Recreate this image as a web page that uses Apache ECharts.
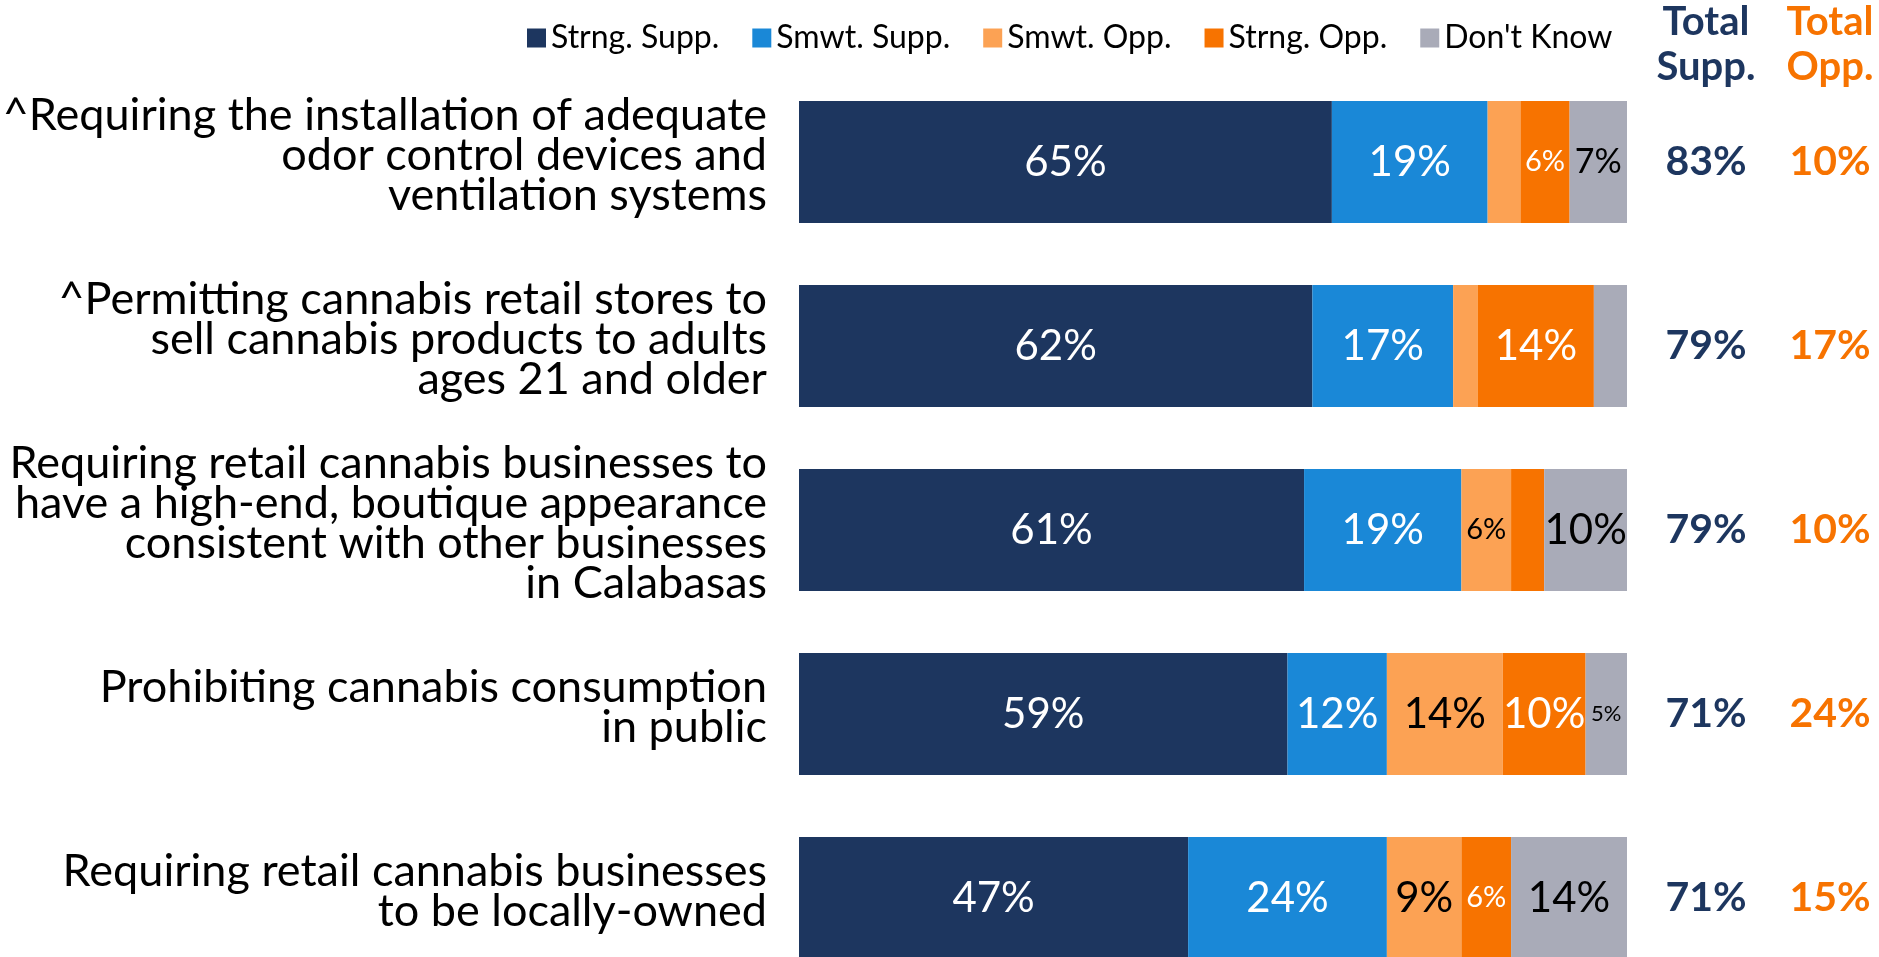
<!DOCTYPE html>
<html>
<head>
<meta charset="utf-8">
<title>Cannabis regulations support</title>
<script src="https://cdn.jsdelivr.net/npm/echarts@6/dist/echarts.min.js"></script>
<style>
  html, body { margin: 0; padding: 0; background: #fff; }
  #chart { width: 1879px; height: 957px; }
</style>
</head>
<body>
<div id="chart"></div>
<script>
  // categories (top to bottom)
  const categories = [
    '^Requiring the installation of adequate\nodor control devices and\nventilation systems',
    '^Permitting cannabis retail stores to\nsell cannabis products to adults\nages 21 and older',
    'Requiring retail cannabis businesses to\nhave a high-end, boutique appearance\nconsistent with other businesses\nin Calabasas',
    'Prohibiting cannabis consumption\nin public',
    'Requiring retail cannabis businesses\nto be locally-owned'
  ]
  const seriesNames = ['Strng. Supp.', 'Smwt. Supp.', 'Smwt. Opp.', 'Strng. Opp.', "Don't Know"]
  const strngSupp = [65, 62, 61, 59, 47]
  const smwtSupp = [19, 17, 19, 12, 24]
  const smwtOpp = [4, 3, 6, 14, 9]
  const strngOpp = [6, 14, 4, 10, 6]
  const dontKnow = [7, 4, 10, 5, 14]
  const totalSupp = [83, 79, 79, 71, 71]
  const totalOpp = [10, 17, 10, 24, 15]

  const navy = '#1d365f'
  const orange = '#f77300'
  const font = 'Lato'

  const values = [strngSupp, smwtSupp, smwtOpp, strngOpp, dontKnow]
  const colors = [navy, '#1a88d7', '#fca254', orange, '#a9abb8']
  const labelColors = ['#fff', '#fff', '#000', '#fff', '#000']

  // rows add up to 100 or 101 because of rounding, so scale each row to 100
  const rowSum = categories.map((c, i) => values.reduce((s, arr) => s + arr[i], 0))

  // small segments get smaller labels, tiny ones none
  function labelSize(v) {
    if (v >= 9) return 42
    if (v >= 7) return 34
    if (v >= 6) return 29
    return 22
  }

  let chart = echarts.init(document.getElementById('chart'))

  let series = values.map((arr, k) => ({
    name: seriesNames[k],
    type: 'bar',
    stack: 'all',
    barWidth: 122,
    itemStyle: { color: colors[k] },
    label: {
      show: true,
      position: 'inside',
      color: labelColors[k],
      fontFamily: font,
      formatter: p => arr[p.dataIndex] >= 5 ? arr[p.dataIndex] + '%' : ''
    },
    data: arr.map((v, i) => ({
      value: v / rowSum[i] * 100,
      label: { fontSize: labelSize(v) }
    }))
  }))

  let option = {
    animation: false,
    color: colors,
    title: [
      {
        text: 'Total\nSupp.', left: 1706, top: 0, padding: 0, textAlign: 'center',
        textStyle: { fontFamily: font, fontSize: 40, fontWeight: 'bold', color: navy, lineHeight: 45 }
      },
      {
        text: 'Total\nOpp.', left: 1830, top: 0, padding: 0, textAlign: 'center',
        textStyle: { fontFamily: font, fontSize: 40, fontWeight: 'bold', color: orange, lineHeight: 45 }
      }
    ],
    legend: {
      data: seriesNames,
      left: 522,
      top: 17,
      icon: 'rect',
      itemWidth: 19,
      itemHeight: 19,
      itemGap: 33,
      textStyle: { fontFamily: font, fontSize: 32, color: '#000' }
    },
    grid: { left: 799, top: 70, width: 828, height: 920, outerBoundsMode: 'none' },
    xAxis: { type: 'value', min: 0, max: 100, show: false },
    yAxis: [
      {
        type: 'category',
        inverse: true,
        data: categories,
        axisLine: { show: false },
        axisTick: { show: false },
        axisLabel: {
          fontFamily: font, fontSize: 45, lineHeight: 40, color: '#000', margin: 32, align: 'right',
          // a thin empty last line lifts the text a little above the bar centre
          formatter: v => v + '\n{g| }',
          rich: { g: { fontSize: 2, lineHeight: 14 } }
        }
      },
      {
        type: 'category',
        inverse: true,
        position: 'right',
        data: categories,
        axisLine: { show: false },
        axisTick: { show: false },
        axisLabel: {
          fontFamily: font, fontSize: 41, fontWeight: 'bold', color: navy, margin: 79, align: 'center',
          formatter: (v, i) => totalSupp[i] + '%'
        }
      },
      {
        type: 'category',
        inverse: true,
        position: 'right',
        data: categories,
        axisLine: { show: false },
        axisTick: { show: false },
        axisLabel: {
          fontFamily: font, fontSize: 41, fontWeight: 'bold', color: orange, margin: 203, align: 'center',
          formatter: (v, i) => totalOpp[i] + '%'
        }
      }
    ],
    series: series
  }

  chart.setOption(option)
</script>
</body>
</html>
